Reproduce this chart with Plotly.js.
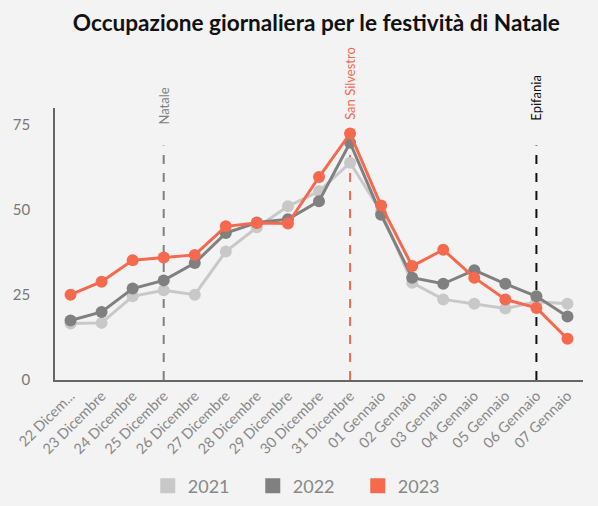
<!DOCTYPE html>
<html>
<head>
<meta charset="utf-8">
<script src="https://cdn.plot.ly/plotly-3.0.1.min.js"></script>
<style>html,body{margin:0;padding:0;background:#f3f3f3;}</style>
</head>
<body>
<div id="chart" style="width:598px;height:506px;"></div>
<script>
const categories = ["22 Dicembre","23 Dicembre","24 Dicembre","25 Dicembre","26 Dicembre","27 Dicembre","28 Dicembre","29 Dicembre","30 Dicembre","31 Dicembre","01 Gennaio","02 Gennaio","03 Gennaio","04 Gennaio","05 Gennaio","06 Gennaio","07 Gennaio"];
const tickLabels = ["22 Dicem...","23 Dicembre","24 Dicembre","25 Dicembre","26 Dicembre","27 Dicembre","28 Dicembre","29 Dicembre","30 Dicembre","31 Dicembre","01 Gennaio","02 Gennaio","03 Gennaio","04 Gennaio","05 Gennaio","06 Gennaio","07 Gennaio"];
const y2021 = [16.6,16.8,24.6,26.4,25.1,37.8,44.9,51.1,55.5,63.9,49.5,28.6,23.7,22.4,21.0,23.0,22.4];
const y2022 = [17.5,20.0,26.9,29.3,34.4,43.2,46.3,47.3,52.6,69.8,48.6,30.1,28.3,32.3,28.3,24.6,18.7];
const y2023 = [25.1,28.9,35.2,36.0,36.8,45.2,46.2,46.0,59.7,72.5,51.3,33.5,38.3,30.1,23.7,21.2,12.1];
const seriesNames = ["2021","2022","2023"];
const seriesColors = ["#c8c8c8","#808080","#f5694e"];
const eventNames = ["Natale","San Silvestro","Epifania"];
const eventDates = ["25 Dicembre","31 Dicembre","06 Gennaio"];
const eventColors = ["#808080","#f5694e","#111111"];
const eventLineTop = 69;
const eventLabelY = [74.6, 75.8, 75.8];

const allY = [y2021, y2022, y2023];
const traces = [];
allY.forEach((ys, i) => {
  traces.push({
    x: categories, y: ys, type: "scatter", mode: "lines+markers",
    name: seriesNames[i], showlegend: false,
    line: {color: seriesColors[i], width: 3},
    marker: {color: seriesColors[i], size: 12},
    hoverinfo: "x+y"
  });
});
seriesNames.forEach((n, i) => {
  traces.push({
    x: [null], y: [null], type: "scatter", mode: "markers", name: n,
    marker: {color: seriesColors[i], size: 15, symbol: "square"}
  });
});

const shapes = eventDates.map((d, i) => ({
  type: "line", xref: "x", yref: "y", x0: d, x1: d, y0: 0, y1: eventLineTop,
  line: {color: eventColors[i], width: 2, dash: "dash"}, layer: "below"
}));
const annotations = eventDates.map((d, i) => ({
  x: d, y: eventLabelY[i], xref: "x", yref: "y", text: eventNames[i],
  textangle: -90, showarrow: false, xanchor: "center", yanchor: "bottom",
  font: {family: "Lato, sans-serif", size: 13, color: eventColors[i]}
}));

const layout = {
  width: 598, height: 506,
  paper_bgcolor: "#f3f3f3", plot_bgcolor: "#f3f3f3",
  margin: {l: 55, r: 15, t: 108, b: 126, autoexpand: false},
  font: {family: "Lato, sans-serif", color: "#777777"},
  title: {text: "Occupazione giornaliera per le festività di Natale", x: 0.529, xanchor: "center", y: 0.955, yanchor: "middle",
          font: {family: "Lato, sans-serif", size: 22.6, color: "#111111", weight: "bold"}},
  xaxis: {type: "category", categoryorder: "array", categoryarray: categories,
          tickvals: categories, ticktext: tickLabels, tickangle: -45,
          range: [-0.5, 16.5], showgrid: false, zeroline: false, automargin: false,
          showline: true, linecolor: "#666666", linewidth: 1.5, ticks: "",
          tickfont: {size: 14.5, color: "#888888"}},
  yaxis: {range: [0, 80], tickvals: [0,25,50,75], showgrid: false, zeroline: false, automargin: false,
          showline: true, linecolor: "#666666", linewidth: 1.5, ticks: "",
          ticklabelstandoff: 20, tickfont: {size: 15, color: "#777777"}},
  legend: {orientation: "h", x: 0.474, xanchor: "center", xref: "paper", y: -0.39, yanchor: "middle",
           font: {size: 18, color: "#888888"}, entrywidth: 60, entrywidthmode: "pixels",
           bgcolor: "rgba(0,0,0,0)"},
  shapes: shapes, annotations: annotations,
  hovermode: "closest"
};
Plotly.newPlot("chart", traces, layout, {displayModeBar: false});
</script>
</body>
</html>
